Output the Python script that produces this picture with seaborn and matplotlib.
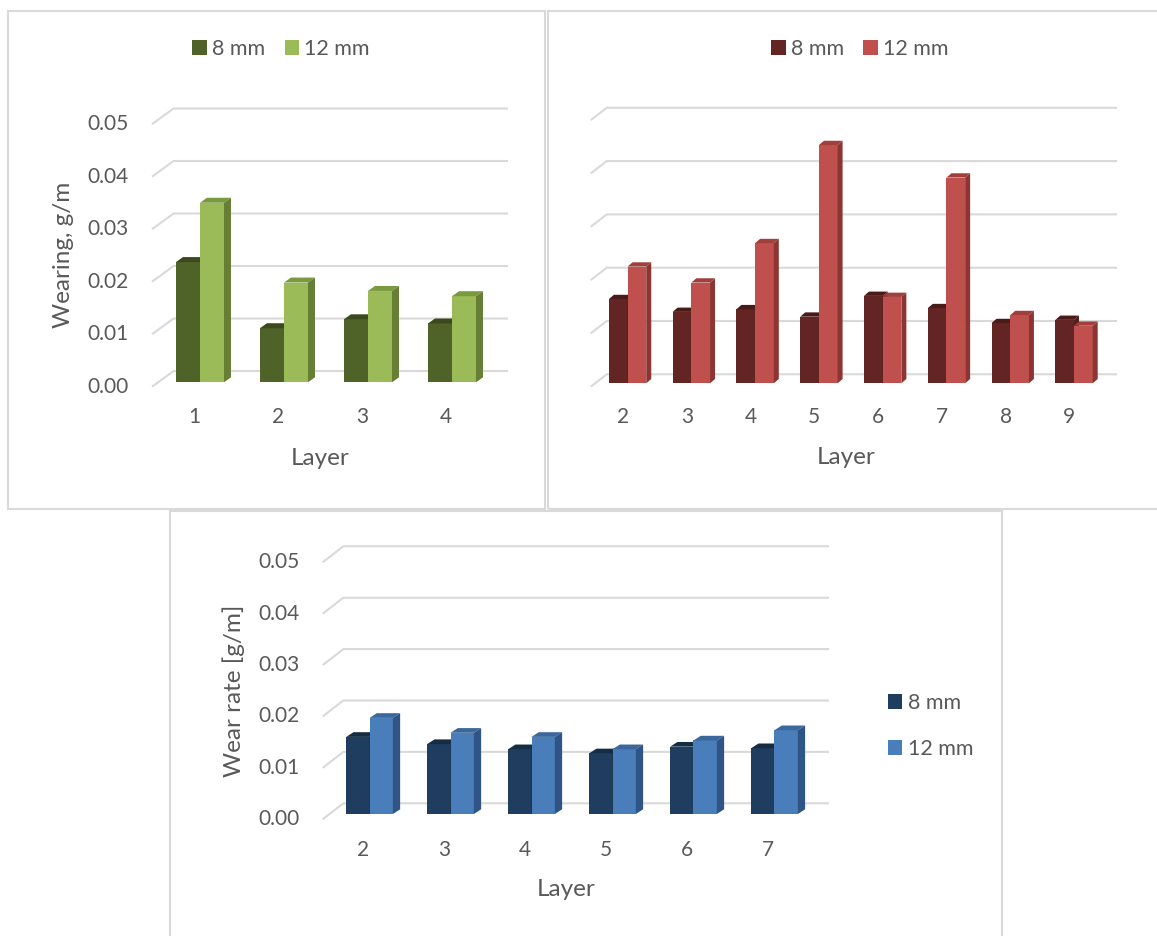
import numpy as np
import pandas as pd
import matplotlib
matplotlib.use("Agg")
import matplotlib.pyplot as plt
from matplotlib.patches import Polygon, Patch, Rectangle
import seaborn as sns

sns.set_theme(style="white")
plt.rcParams['font.family'] = ['Lato', 'DejaVu Sans']

# ---------------- data ----------------
SIZES = ["8 mm", "12 mm"]

layers_a = ["1", "2", "3", "4"]
wear_a_8 = [0.0229, 0.0103, 0.0120, 0.0112]
wear_a_12 = [0.0342, 0.0190, 0.0174, 0.0164]

layers_b = ["2", "3", "4", "5", "6", "7", "8", "9"]
wear_b_8 = [0.0158, 0.0134, 0.0139, 0.0125, 0.0164, 0.0141, 0.0113, 0.0119]
wear_b_12 = [0.0219, 0.0189, 0.0263, 0.0447, 0.0162, 0.0386, 0.0128, 0.0108]

layers_c = ["2", "3", "4", "5", "6", "7"]
wear_c_8 = [0.0150, 0.0136, 0.0126, 0.0118, 0.0131, 0.0128]
wear_c_12 = [0.0187, 0.0158, 0.0150, 0.0126, 0.0143, 0.0163]

y_ticks = [0.00, 0.01, 0.02, 0.03, 0.04, 0.05]

# ---------------- styling ----------------
W, H, DPI = 1157, 936, 100
TEXT = "#595959"
GRID = "#D9D9D9"
TICK_FS = 15
TITLE_FS = 17.5
LEG_FS = 15.5

GREEN = dict(f8="#4F6228", t8="#3A4A1D", s8="#3F5020",
             f12="#9BBB59", t12="#7A9A3E", s12="#677F35")
RED = dict(f8="#632523", t8="#4A1A19", s8="#521E1D",
           f12="#C0504D", t12="#A03F3C", s12="#8C3533")
BLUE = dict(f8="#1E3D5F", t8="#152C45", s8="#18324E",
            f12="#4A7EBB", t12="#3B679A", s12="#2F5587")

fig = plt.figure(figsize=(W / DPI, H / DPI), dpi=DPI)
fig.patch.set_facecolor("white")


def fx(px):
    return px / W


def fy(py):
    return 1 - py / H


# chart frames
for (x0, y0, x1, y1) in [(8, 11, 545, 509), (548, 11, 1160, 509), (170, 511, 1002, 940)]:
    fig.add_artist(Rectangle((fx(x0), fy(y1)), (x1 - x0) / W, (y1 - y0) / H,
                             transform=fig.transFigure, fill=False,
                             edgecolor=GRID, linewidth=1.5, zorder=0))


def draw_panel(layers, v8, v12, colors, spec):
    left, top, right, bottom = spec["box"]
    axw, axh = right - left, bottom - top
    ax = fig.add_axes([fx(left), fy(bottom), axw / W, axh / H])
    n = len(layers)
    df = pd.DataFrame({
        "Layer": layers * 2,
        "Wear": list(v8) + list(v12),
        "Size": [SIZES[0]] * n + [SIZES[1]] * n,
    })
    sns.barplot(data=df, x="Layer", y="Wear", hue="Size", hue_order=SIZES,
                palette=[colors["f8"], colors["f12"]], width=spec["width"],
                saturation=1, linewidth=0, errorbar=None, legend=False, ax=ax)
    ax.set_xlim(*spec["xlim"])
    ax.set_ylim(0, 0.05)
    ax.set_axis_off()

    xr = spec["xlim"][1] - spec["xlim"][0]
    ddx = spec["depth"][0] * xr / axw
    ddy = spec["depth"][1] * 0.05 / axh

    # extruded tops and sides of the columns
    for k, cont in enumerate(ax.containers):
        key = "8" if k == 0 else "12"
        z = 3 + 2 * k
        for bar in cont.patches:
            bar.set_zorder(z)
            x0, w, h = bar.get_x(), bar.get_width(), bar.get_height()
            top_face = Polygon([(x0, h), (x0 + w, h), (x0 + w + ddx, h + ddy), (x0 + ddx, h + ddy)],
                               closed=True, facecolor=colors["t" + key], edgecolor="none",
                               zorder=z, clip_on=False)
            side_face = Polygon([(x0 + w, 0), (x0 + w, h), (x0 + w + ddx, h + ddy), (x0 + w + ddx, ddy)],
                                closed=True, facecolor=colors["s" + key], edgecolor="none",
                                zorder=z, clip_on=False)
            ax.add_patch(top_face)
            ax.add_patch(side_face)

    # receding gridlines on the back wall
    ytr = ax.get_yaxis_transform()
    fo = spec["front_off"] * 0.05 / axh
    bo = spec["back_off"] * 0.05 / axh
    dxa = spec["diag_dx"] / axw
    for v in y_ticks:
        ax.plot([0, dxa, 1], [v - fo, v + bo, v + bo], transform=ytr, color=GRID,
                linewidth=1.5, clip_on=False, zorder=1, solid_joinstyle="miter",
                solid_capstyle="butt")
        if spec["yticklabels"]:
            ax.text(-23 / axw, v - fo, f"{v:.2f}", transform=ytr, ha="right", va="center",
                    fontsize=TICK_FS, color=TEXT)

    # category labels
    xtr = ax.get_xaxis_transform()
    for i, lab in enumerate(layers):
        ax.text(i + spec["xlab_dx"] * xr / axw, -spec["xlab_dy"] / axh, lab, transform=xtr,
                ha="center", va="center", fontsize=TICK_FS, color=TEXT)
    return ax


spec_a = dict(box=(152, 119.8, 508, 382.3), xlim=(-0.571, 3.667), width=0.572,
              depth=(7, 5), diag_dx=21.6, front_off=4.4, back_off=11.3,
              yticklabels=True, xlab_dx=-6, xlab_dy=34.4)
spec_b = dict(box=(590.7, 116.8, 1117, 383.3), xlim=(-0.578, 7.674), width=0.586,
              depth=(5, 4.3), diag_dx=16, front_off=3.4, back_off=9,
              yticklabels=False, xlab_dx=-4.6, xlab_dy=33.4)
spec_c = dict(box=(322.7, 557, 829, 814), xlim=(-0.578, 5.673), width=0.576,
              depth=(7.3, 4.7), diag_dx=20.6, front_off=5.3, back_off=10.7,
              yticklabels=True, xlab_dx=-6.5, xlab_dy=36)

draw_panel(layers_a, wear_a_8, wear_a_12, GREEN, spec_a)
draw_panel(layers_b, wear_b_8, wear_b_12, RED, spec_b)
draw_panel(layers_c, wear_c_8, wear_c_12, BLUE, spec_c)

# axis titles
fig.text(fx(64), fy(255), "Wearing, g/m", rotation=90, ha="center", va="center",
         fontsize=TITLE_FS, color=TEXT)
fig.text(fx(320), fy(458), "Layer", ha="center", va="center", fontsize=TITLE_FS, color=TEXT)
fig.text(fx(846), fy(457), "Layer", ha="center", va="center", fontsize=TITLE_FS, color=TEXT)
fig.text(fx(234), fy(691), "Wear rate [g/m]", rotation=90, ha="center", va="center",
         fontsize=TITLE_FS, color=TEXT)
fig.text(fx(566), fy(890), "Layer", ha="center", va="center", fontsize=TITLE_FS, color=TEXT)

# legends
leg_kw = dict(frameon=False, fontsize=LEG_FS, labelcolor=TEXT, handlelength=0.66,
              handleheight=0.66, handletextpad=0.25, borderpad=0, borderaxespad=0)


def handles(c):
    return [Patch(facecolor=c["f8"], edgecolor="none"), Patch(facecolor=c["f12"], edgecolor="none")]


fig.legend(handles(GREEN), SIZES, loc="center", bbox_to_anchor=(fx(281), fy(49)),
           ncol=2, columnspacing=0.9, **leg_kw)
fig.legend(handles(RED), SIZES, loc="center", bbox_to_anchor=(fx(860), fy(49)),
           ncol=2, columnspacing=0.9, **leg_kw)
fig.legend(handles(BLUE), SIZES, loc="center left", bbox_to_anchor=(fx(888), fy(726)),
           ncol=1, labelspacing=1.2, **leg_kw)

fig.savefig("out.png", dpi=DPI, facecolor="white")
